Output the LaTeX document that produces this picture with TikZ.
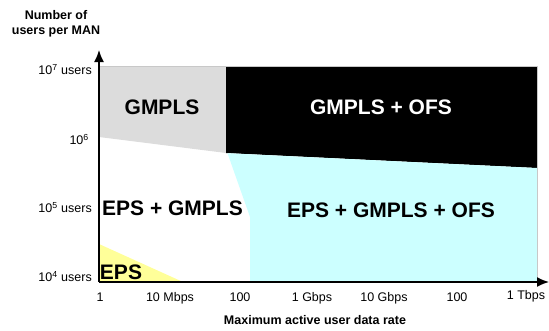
\documentclass[tikz,border=0pt]{standalone}
\usepackage{fontspec}
\setmainfont{Liberation Sans}
\usetikzlibrary{arrows.meta}
\definecolor{gmplsgray}{RGB}{220,220,220}
\definecolor{ofscyan}{RGB}{204,255,255}
\definecolor{epsyellow}{RGB}{255,255,153}
\definecolor{edgegray}{RGB}{200,200,200}
\begin{document}
\begin{tikzpicture}[x=1pt,y=-1pt,
  region/.style={draw=none},
  biglabel/.style={inner sep=0pt,text height=15pt,text depth=0pt,font=\fontsize{21}{21}\selectfont\bfseries},
  ticklabel/.style={inner sep=0pt,text height=9pt,text depth=0pt,font=\fontsize{12.5}{13}\selectfont},
  axistitle/.style={inner sep=0pt,font=\fontsize{12.5}{15}\selectfont\bfseries},
  axisline/.style={line width=1.6pt,-{Latex[length=12pt,width=10pt]}}]
\useasboundingbox (0,0) rectangle (549,330);
% corner coordinates
\coordinate (O) at (99,282);
\coordinate (ytop) at (99,50);
\coordinate (xend) at (549,282);
% regions
\fill[gmplsgray] (99,67) -- (226,67) -- (226,153) -- (99,137) -- cycle;
\fill[black] (226,67) -- (537,67) -- (537,168) -- (226,153) -- cycle;
\fill[ofscyan] (227.5,153.2) -- (537,168) -- (537,282) -- (250,282) -- (250,217) -- cycle;
\fill[epsyellow] (99,244) -- (183,282) -- (99,282) -- cycle;
\draw[edgegray,line width=0.6pt] (99,66.7) -- (537,66.7) -- (537,282);
% axes
\draw[axisline] (O) -- (ytop);
\draw[axisline] (O) -- (xend);
% y tick labels
\node[ticklabel,anchor=east] (y7) at (92,70) {10\textsuperscript{7} users};
\node[ticklabel,anchor=east] (y6) at (89,140) {10\textsuperscript{6}};
\node[ticklabel,anchor=east] (y5) at (92,208) {10\textsuperscript{5} users};
\node[ticklabel,anchor=east] (y4) at (92,277) {10\textsuperscript{4} users};
% x tick labels
\node[ticklabel] (x1) at (100,297) {1};
\node[ticklabel] (x2) at (170,297) {10 Mbps};
\node[ticklabel] (x3) at (240,297) {100};
\node[ticklabel] (x4) at (312,297) {1 Gbps};
\node[ticklabel] (x5) at (384,297) {10 Gbps};
\node[ticklabel] (x6) at (457,297) {100};
\node[ticklabel] (x7) at (526,295) {1 Tbps};
% axis titles
\node[axistitle,align=center] (ytitle) at (56,24) {Number of\\users per MAN};
\node[axistitle] (xtitle) at (315,320) {Maximum active user data rate};
% region labels
\node[biglabel] (lgmpls) at (162,107) {GMPLS};
\node[biglabel,text=white] (lgmplsofs) at (381,107) {GMPLS + OFS};
\node[biglabel] (lepsgmpls) at (172.5,208) {EPS + GMPLS};
\node[biglabel] (lall) at (391,210) {EPS + GMPLS + OFS};
\node[biglabel] (leps) at (121,271.5) {EPS};
\end{tikzpicture}
\end{document}
